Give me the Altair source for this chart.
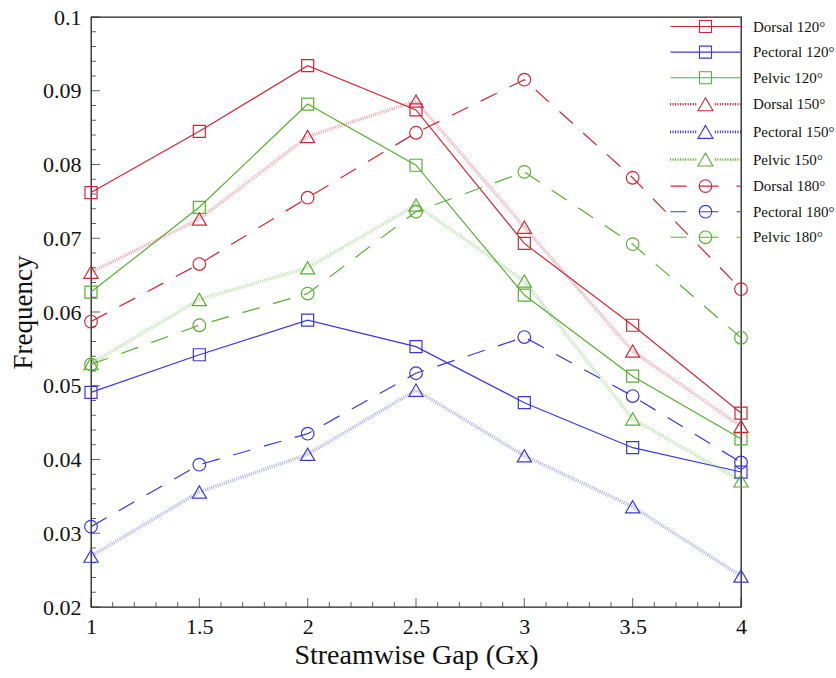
import altair as alt
import pandas as pd

# ---------------- data ----------------
gaps = [1, 1.5, 2, 2.5, 3, 3.5, 4]
series_names = ["Dorsal 120°", "Pectoral 120°", "Pelvic 120°",
                "Dorsal 150°", "Pectoral 150°", "Pelvic 150°",
                "Dorsal 180°", "Pectoral 180°", "Pelvic 180°"]
dorsal_120 = [0.0762, 0.0845, 0.0934, 0.0874, 0.0693, 0.0582, 0.0463]
pectoral_120 = [0.0491, 0.0542, 0.0589, 0.0553, 0.0477, 0.0416, 0.0383]
pelvic_120 = [0.0627, 0.0742, 0.0882, 0.0799, 0.0623, 0.0513, 0.0428]
dorsal_150 = [0.0654, 0.0726, 0.0838, 0.0886, 0.0715, 0.0547, 0.0445]
pectoral_150 = [0.0269, 0.0356, 0.0407, 0.0494, 0.0405, 0.0336, 0.0242]
pelvic_150 = [0.0530, 0.0617, 0.0660, 0.0745, 0.0642, 0.0455, 0.0371]
dorsal_180 = [0.0587, 0.0665, 0.0755, 0.0843, 0.0915, 0.0782, 0.0631]
pectoral_180 = [0.0309, 0.0393, 0.0435, 0.0517, 0.0566, 0.0486, 0.0396]
pelvic_180 = [0.0529, 0.0582, 0.0625, 0.0736, 0.0790, 0.0692, 0.0565]
series_values = [dorsal_120, pectoral_120, pelvic_120,
                 dorsal_150, pectoral_150, pelvic_150,
                 dorsal_180, pectoral_180, pelvic_180]

x_major = [1, 1.5, 2, 2.5, 3, 3.5, 4]
x_minor = [round(1 + 0.1 * i, 2) for i in range(31) if i % 5 != 0]
y_major = [0.02, 0.03, 0.04, 0.05, 0.06, 0.07, 0.08, 0.09, 0.1]
y_minor = [round(0.02 + 0.002 * i, 4) for i in range(41) if i % 5 != 0]

# ---------------- styles ----------------
RED, BLUE, GREEN = "#c92a3a", "#3a3ad2", "#5aae34"
colors = [RED, BLUE, GREEN] * 3
FONT = "Liberation Serif, DejaVu Serif, serif"
W, H = 650, 590

rows = []
for name, vals in zip(series_names, series_values):
    for g, v in zip(gaps, vals):
        rows.append({"gap": g, "value": v, "series": name})
df = pd.DataFrame(rows)

xs = alt.Scale(domain=[1, 4], nice=False, zero=False)
ys = alt.Scale(domain=[0.02, 0.1], nice=False, zero=False)

x_axis = alt.Axis(values=x_major, format="~g", title="Streamwise Gap (Gx)",
                  ticks=False, domain=False, grid=False, labelFlush=False,
                  labelPadding=9, titlePadding=4, titleFontSize=28,
                  labelFont=FONT, titleFont=FONT)
y_axis = alt.Axis(values=y_major, format=".2~f", title="Frequency",
                  ticks=False, domain=False, grid=False,
                  labelPadding=10, titlePadding=5, titleFontSize=27,
                  labelFont=FONT, titleFont=FONT)
x_enc = alt.X("gap:Q", scale=xs, axis=x_axis)
y_enc = alt.Y("value:Q", scale=ys, axis=y_axis)

layers = []
shapes_plot = ["square", "triangle-up", "circle"]
sizes_plot = [144, 200, 160]
for i, name in enumerate(series_names):
    grp = i // 3
    base = alt.Chart(df).transform_filter(alt.datum.series == name)
    if grp == 0:
        line = base.mark_line(color=colors[i], strokeWidth=1.2)
    elif grp == 1:
        line = base.mark_line(color=colors[i], strokeWidth=3.5, strokeDash=[1, 1.2], opacity=0.4)
    else:
        line = base.mark_line(color=colors[i], strokeWidth=1.2, strokeDash=[18, 14])
    layers.append(line.encode(x=x_enc, y=y_enc))
for i, name in enumerate(series_names):
    grp = i // 3
    base = alt.Chart(df).transform_filter(alt.datum.series == name)
    pts = base.mark_point(shape=shapes_plot[grp], size=sizes_plot[grp], filled=False,
                          color=colors[i], strokeWidth=1.2, opacity=1)
    layers.append(pts.encode(x=x_enc, y=y_enc))

# legend symbols (line + marker) as custom paths, unit = 6 px at size 144
L = 5.83
solid = f"M{-L},0H{L}"
square = "M-1,-1H1V1H-1Z"
circle = "M1.05,0A1.05,1.05 0 1,1 -1.05,0A1.05,1.05 0 1,1 1.05,0Z"
tri = "M0,-1.08L1.25,1.08L-1.25,1.08Z"
hatch = ""
k = 0
while True:
    xx = -L + 0.42 * k
    if xx > -1.35:
        break
    hatch += f"M{xx:.2f},-0.22V0.22M{-xx:.2f},-0.22V0.22"
    k += 1
dashed = f"M{-L},0H-3.17M-1.05,0H2.17M5.17,0H{L}"
leg_paths = [solid + square] * 3 + [hatch + tri] * 3 + [dashed + circle] * 3

leg = alt.Legend(title=None, orient="none", legendX=607, legendY=2,
                 padding=0, symbolSize=144, symbolStrokeWidth=1.1,
                 symbolOpacity=1, labelFont=FONT, labelFontSize=15,
                 labelColor="#111", labelOffset=40, rowPadding=8.6,
                 symbolOffset=0, labelLimit=300)
legend_layer = alt.Chart(df).mark_point(filled=False, opacity=0, size=144).encode(
    x=x_enc, y=y_enc,
    color=alt.Color("series:N", scale=alt.Scale(domain=series_names, range=colors), legend=leg),
    shape=alt.Shape("series:N", scale=alt.Scale(domain=series_names, range=leg_paths), legend=leg),
)
layers.append(legend_layer)

# inward axis ticks
TC = "#222"
xt = alt.X("t:Q", scale=xs, axis=x_axis)
yt = alt.Y("t:Q", scale=ys, axis=y_axis)
xmaj = alt.Chart(pd.DataFrame({"t": x_major})).mark_tick(
    orient="vertical", size=9, thickness=1, color=TC).encode(x=xt, y=alt.value(H - 4.5))
xmin = alt.Chart(pd.DataFrame({"t": x_minor})).mark_tick(
    orient="vertical", size=5, thickness=1, color=TC).encode(x=xt, y=alt.value(H - 2.5))
ymaj = alt.Chart(pd.DataFrame({"t": y_major})).mark_tick(
    orient="horizontal", size=9, thickness=1, color=TC).encode(y=yt, x=alt.value(4.5))
ymin = alt.Chart(pd.DataFrame({"t": y_minor})).mark_tick(
    orient="horizontal", size=5, thickness=1, color=TC).encode(y=yt, x=alt.value(2.5))
layers += [xmaj, xmin, ymaj, ymin]

chart = alt.layer(*layers).properties(
    width=W, height=H,
    autosize=alt.AutoSizeParams(type="none"),
    padding={"left": 91, "top": 17, "right": 95, "bottom": 71},
    background="white",
).configure(font=FONT).configure_view(stroke="#222", strokeWidth=1.3).configure_axis(
    labelFont=FONT, labelFontSize=22, labelColor="#111",
    titleFont=FONT, titleFontWeight="normal", titleColor="#111",
).configure_legend(labelFont=FONT)

chart.save("out.html", embed_options={"renderer": "svg", "actions": False})
